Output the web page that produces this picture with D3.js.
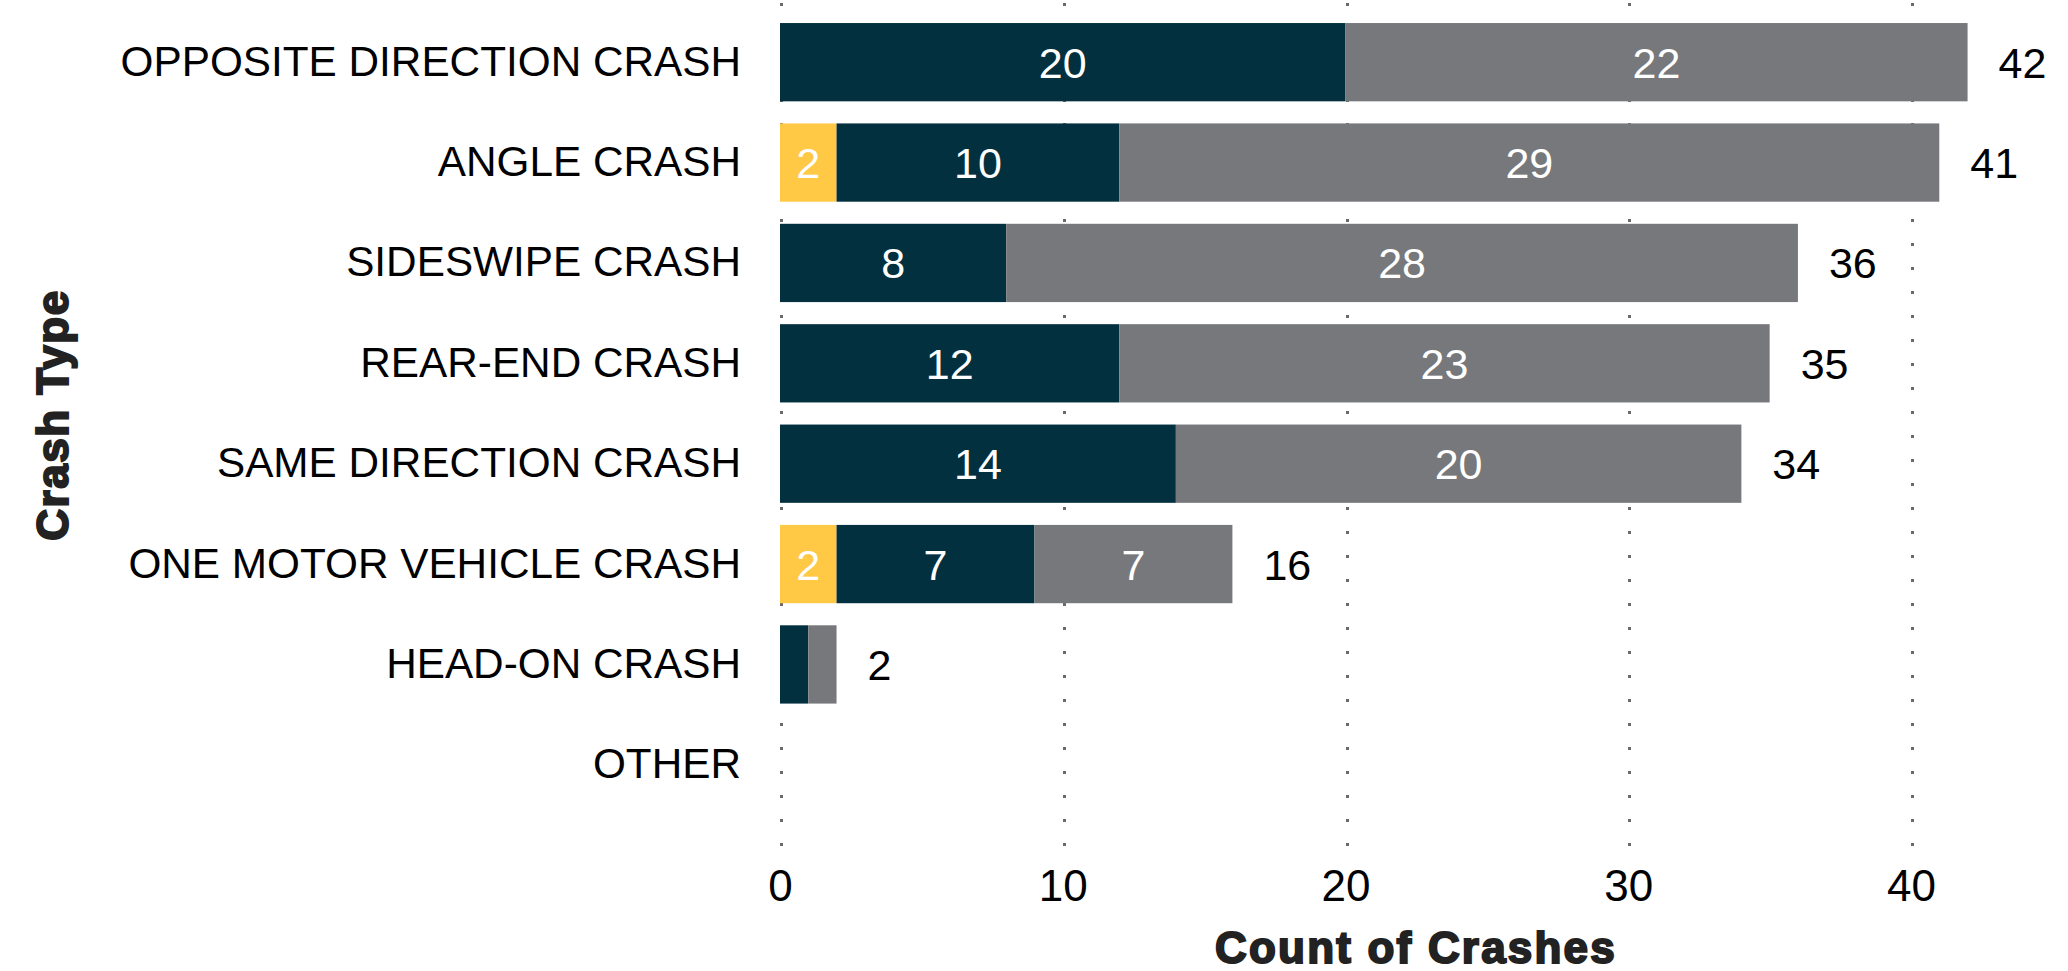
<!DOCTYPE html>
<html>
<head>
<meta charset="utf-8">
<script src="https://cdn.jsdelivr.net/npm/d3@7/dist/d3.min.js"></script>
<style>
  html, body { margin: 0; padding: 0; background: #ffffff; }
  svg { display: block; }
  text { font-family: "Liberation Sans", Arial, Helvetica, sans-serif; }
</style>
</head>
<body>
<div id="chart"></div>
<script>
// Crash types, top to bottom
const categories = [
  "OPPOSITE DIRECTION CRASH",
  "ANGLE CRASH",
  "SIDESWIPE CRASH",
  "REAR-END CRASH",
  "SAME DIRECTION CRASH",
  "ONE MOTOR VEHICLE CRASH",
  "HEAD-ON CRASH",
  "OTHER"
];

// Stacked segments, left to right
const seriesKeys = ["Severe", "Injury", "Property Damage"];
const severeCounts = [0, 2, 0, 0, 0, 2, 0, 0];
const injuryCounts = [20, 10, 8, 12, 14, 7, 1, 0];
const propertyCounts = [22, 29, 28, 23, 20, 7, 1, 0];

const xTicks = [0, 10, 20, 30, 40];
const xTitle = "Count of Crashes";
const yTitle = "Crash Type";

const colors = { "Severe": "#FFC845", "Injury": "#03303F", "Property Damage": "#77787B" };

const W = 2068, H = 971;
const svg = d3.select("#chart").append("svg").attr("width", W).attr("height", H);

const rows = categories.map((c, i) => ({
  category: c,
  "Severe": severeCounts[i],
  "Injury": injuryCounts[i],
  "Property Damage": propertyCounts[i]
}));

const x = d3.scaleLinear().domain([0, 45]).range([780, 2052.4]);
const y = d3.scaleBand().domain(categories).range([12, 815]).paddingInner(0.22).paddingOuter(0.11);

// Dotted vertical gridlines, snapped to whole pixels so the dots stay crisp
svg.append("g").selectAll("line").data(xTicks).join("line")
  .attr("x1", d => Math.round(x(d)) + 1.5).attr("x2", d => Math.round(x(d)) + 1.5)
  .attr("y1", 3).attr("y2", 848)
  .attr("stroke", "#6a6a6a").attr("stroke-width", 3)
  .attr("stroke-dasharray", "3,21");

const stacked = d3.stack().keys(seriesKeys)(rows);

const layers = svg.append("g").selectAll("g").data(stacked).join("g")
  .attr("fill", d => colors[d.key]);

layers.selectAll("rect").data(d => d.map(s => ({ s, key: d.key })))
  .join("rect")
  .attr("x", d => x(d.s[0]))
  .attr("y", d => y(d.s.data.category))
  .attr("width", d => x(d.s[1]) - x(d.s[0]))
  .attr("height", y.bandwidth());

// Segment value labels
const segLabels = svg.append("g");
stacked.forEach(layer => {
  layer.forEach(s => {
    const v = s[1] - s[0];
    if (v >= 2) {
      segLabels.append("text")
        .attr("x", (x(s[0]) + x(s[1])) / 2)
        .attr("y", y(s.data.category) + y.bandwidth() / 2)
        .attr("dy", "0.36em")
        .attr("text-anchor", "middle")
        .attr("font-size", 43)
        .attr("fill", "#ffffff")
        .text(v);
    }
  });
});

// Totals to the right of each bar
svg.append("g").selectAll("text").data(rows.filter(r => d3.sum(seriesKeys, k => r[k]) > 0)).join("text")
  .attr("x", r => x(d3.sum(seriesKeys, k => r[k])) + 31)
  .attr("y", r => y(r.category) + y.bandwidth() / 2)
  .attr("dy", "0.36em")
  .attr("font-size", 43)
  .attr("fill", "#000000")
  .text(r => d3.sum(seriesKeys, k => r[k]));

// Category axis
const yAxis = svg.append("g").attr("transform", "translate(780,0)")
  .call(d3.axisLeft(y).tickSize(0).tickPadding(39));
yAxis.select(".domain").remove();
yAxis.selectAll("text").attr("font-size", 42.3).attr("fill", "#000000")
  .attr("font-family", "'Liberation Sans', Arial, sans-serif");

// Count axis
const xAxis = svg.append("g").attr("transform", "translate(0,865)")
  .call(d3.axisBottom(x).tickValues(xTicks).tickSize(0).tickPadding(5));
xAxis.select(".domain").remove();
xAxis.selectAll("text").attr("font-size", 44).attr("fill", "#000000")
  .attr("font-family", "'Liberation Sans', Arial, sans-serif");

// Axis titles
svg.append("text")
  .attr("x", 1416).attr("y", 963)
  .attr("text-anchor", "middle")
  .attr("font-size", 44).attr("font-weight", "bold")
  .attr("letter-spacing", 2.2)
  .attr("fill", "#222222").attr("stroke", "#222222").attr("stroke-width", 2)
  .text(xTitle);

svg.append("text")
  .attr("transform", "translate(68,415) rotate(-90)")
  .attr("text-anchor", "middle")
  .attr("font-size", 44).attr("font-weight", "bold")
  .attr("letter-spacing", 1.5)
  .attr("fill", "#222222").attr("stroke", "#222222").attr("stroke-width", 2)
  .text(yTitle);
</script>
</body>
</html>
